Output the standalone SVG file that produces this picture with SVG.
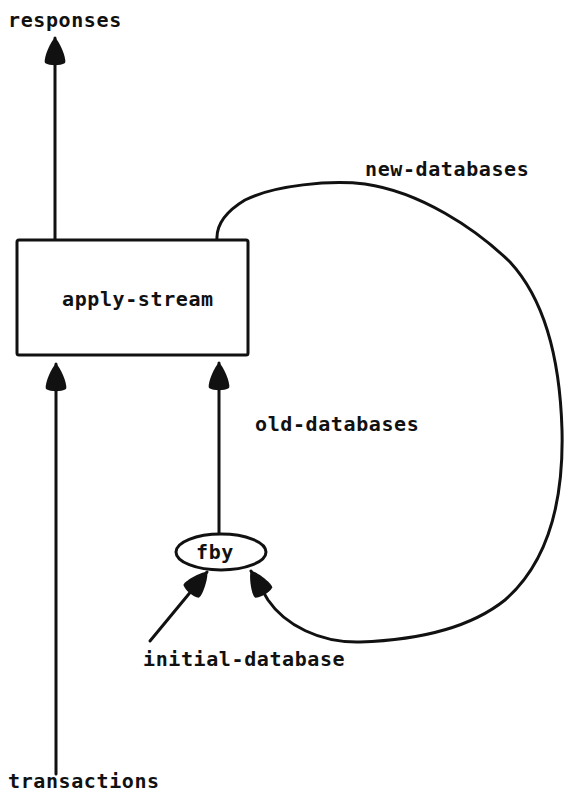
<svg xmlns="http://www.w3.org/2000/svg" width="565" height="796" viewBox="0 0 565 796">
  <style>
    .lbl { font-family: "DejaVu Sans Mono", "Liberation Mono", monospace; font-weight: bold; font-size: 20px; fill: #111; letter-spacing: 0.6px; }
    .edge { fill: none; stroke: #111; stroke-width: 3; stroke-linecap: round; stroke-linejoin: round; }
    .shape { fill: #fff; stroke: #111; stroke-width: 3; }
  </style>
  <defs>
    <marker id="head" viewBox="-30 -14 32 28" refX="0" refY="0" markerUnits="userSpaceOnUse" markerWidth="32" markerHeight="28" orient="auto">
      <path d="M0,0 C-2,-4 -21,-12 -25,-10 C-28,-5 -28,5 -25,10 C-21,12 -2,4 0,0 Z" fill="#111"/>
    </marker>
  </defs>

  <g id="connectors">
    <!-- apply-stream -> responses -->
    <path class="edge" d="M55,240 L55,38" marker-end="url(#head)"/>
    <!-- transactions -> apply-stream -->
    <path class="edge" d="M56,774 L56,364" marker-end="url(#head)"/>
    <!-- fby -> apply-stream (old-databases) -->
    <path class="edge" d="M219,533 L219,363" marker-end="url(#head)"/>
    <!-- initial-database -> fby -->
    <path class="edge" d="M150,641 L207,572" marker-end="url(#head)"/>
    <!-- apply-stream -> fby (new-databases loop) -->
    <path class="edge" d="M217,240 C216,225 225,212 245,200 C275,185 330,180 365,184 C420,192 475,228 510,262 C545,300 560,360 562,430 C564,510 545,565 505,600 C470,628 420,640 360,642 C320,643 285,625 268,600 L251,571" marker-end="url(#head)"/>
  </g>

  <g id="apply-stream">
    <rect class="shape" x="17" y="240" width="231" height="115" rx="2"/>
    <text class="lbl" x="62" y="306">apply-stream</text>
  </g>

  <g id="fby">
    <ellipse class="shape" cx="221" cy="552" rx="45" ry="18"/>
    <text class="lbl" x="196" y="559">fby</text>
  </g>

  <g id="labels">
    <text class="lbl" x="8" y="27">responses</text>
    <text class="lbl" x="365" y="176">new-databases</text>
    <text class="lbl" x="255" y="431">old-databases</text>
    <text class="lbl" x="143" y="666">initial-database</text>
    <text class="lbl" x="8" y="788">transactions</text>
  </g>
</svg>
